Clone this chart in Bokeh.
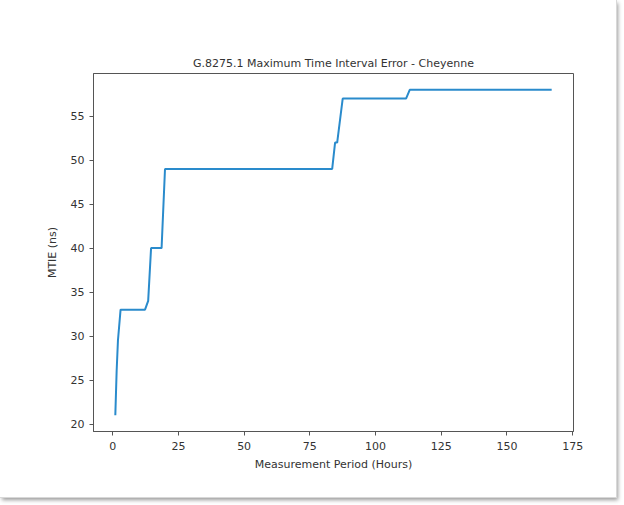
from bokeh.plotting import figure
from bokeh.models import Range1d, FixedTicker
from bokeh.embed import file_html
from bokeh.resources import INLINE

# Data
hours = [1, 1.5, 2, 3, 12.3, 13.5, 14.6, 18.6, 19.9, 83.5, 84.6, 85.4, 87.5, 111.6, 113, 167]
mtie = [21, 26, 29.5, 33, 33, 34, 40, 40, 49, 49, 52, 52, 57, 57, 58, 58]
x_ticks = [0, 25, 50, 75, 100, 125, 150, 175]
y_ticks = [20, 25, 30, 35, 40, 45, 50, 55]

FONT = "DejaVu Sans"
TXT = "#333333"

p = figure(
    width=616, height=497,
    output_backend="svg", toolbar_location=None,
    x_range=Range1d(-7.3, 175.3), y_range=Range1d(19.15, 59.85),
    title="G.8275.1 Maximum Time Interval Error - Cheyenne",
    min_border_left=93, min_border_right=43, min_border_top=73, min_border_bottom=66,
)
p.styles = {"box-shadow": "0 0 0 1px #d8d8d8, 2px 3px 4px #9a9a9a"}

p.line(hours, mtie, line_color="#2a8bcc", line_width=2)

p.title.align = "center"
p.title.text_font = FONT
p.title.text_font_size = "11px"
p.title.text_font_style = "normal"
p.title.text_color = TXT
p.title.offset = 0
p.title.standoff = 7

p.grid.visible = False
p.outline_line_color = "#555555"
p.outline_line_width = 1
p.outline_line_alpha = 1

p.xaxis.ticker = FixedTicker(ticks=x_ticks)
p.yaxis.ticker = FixedTicker(ticks=y_ticks)
p.xaxis.axis_label = "Measurement Period (Hours)"
p.yaxis.axis_label = "MTIE (ns)"

for ax in (p.xaxis[0], p.yaxis[0]):
    ax.axis_line_color = "#555555"
    ax.major_tick_line_color = "#555555"
    ax.major_tick_out = 4
    ax.major_tick_in = 0
    ax.minor_tick_line_color = None
    ax.major_label_text_font = FONT
    ax.major_label_text_font_size = "11px"
    ax.major_label_text_color = TXT
    ax.axis_label_text_font = FONT
    ax.axis_label_text_font_size = "11px"
    ax.axis_label_text_font_style = "normal"
    ax.axis_label_text_color = TXT

p.xaxis.major_label_standoff = 6
p.xaxis.axis_label_standoff = 5
p.yaxis.major_label_standoff = 5
p.yaxis.axis_label_standoff = 9

open("out.html", "w").write(file_html(p, INLINE))
